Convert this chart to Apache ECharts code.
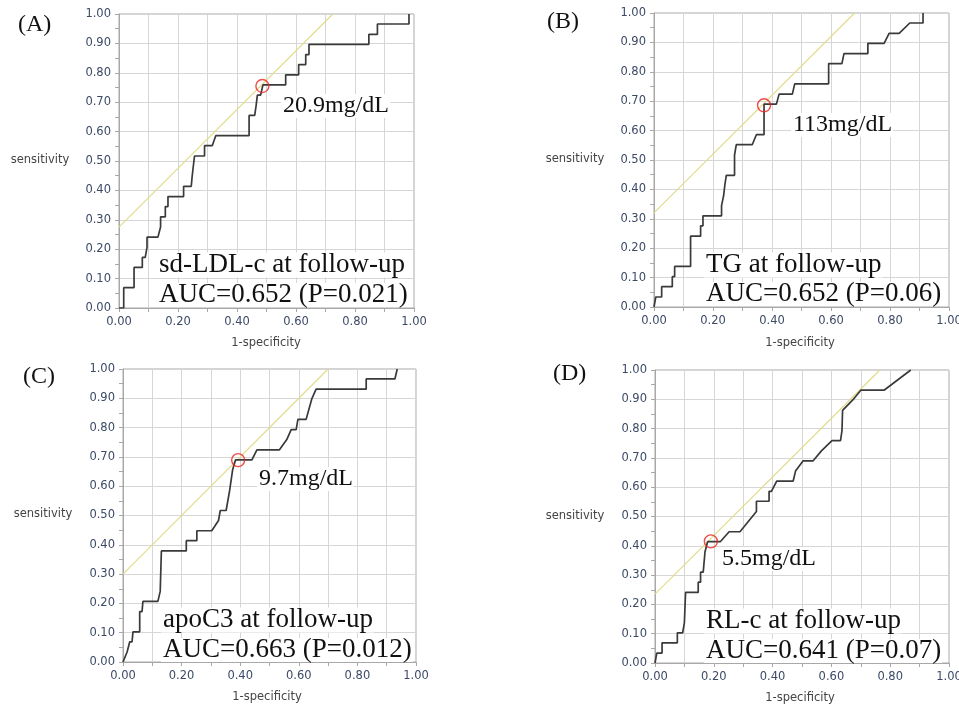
<!DOCTYPE html>
<html>
<head>
<meta charset="utf-8">
<script src="https://cdn.jsdelivr.net/npm/echarts@6/dist/echarts.min.js"></script>
<style>
html,body{margin:0;padding:0;background:#fff;}
#chart{width:959px;height:707px;}
</style>
</head>
<body>
<div id="chart"></div>
<script>
// ---- data: ROC curves [1-specificity, sensitivity] ----
const rocA = [[0,0],[0.016,0],[0.016,0.069],[0.051,0.069],[0.051,0.138],[0.079,0.138],[0.079,0.172],[0.089,0.172],[0.095,0.207],[0.095,0.241],[0.132,0.241],[0.141,0.276],[0.141,0.310],[0.157,0.310],[0.157,0.345],[0.166,0.345],[0.166,0.379],[0.219,0.379],[0.219,0.414],[0.245,0.414],[0.248,0.448],[0.252,0.483],[0.256,0.517],[0.290,0.517],[0.290,0.552],[0.316,0.552],[0.328,0.586],[0.441,0.586],[0.441,0.655],[0.460,0.655],[0.465,0.690],[0.469,0.724],[0.480,0.724],[0.488,0.759],[0.565,0.759],[0.565,0.793],[0.609,0.793],[0.609,0.828],[0.633,0.828],[0.633,0.862],[0.644,0.862],[0.644,0.897],[0.847,0.897],[0.847,0.931],[0.876,0.931],[0.876,0.966],[0.983,0.966],[0.983,1.0]];
const rocB = [[0,0],[0.006,0],[0.006,0.034],[0.026,0.034],[0.026,0.069],[0.062,0.069],[0.062,0.103],[0.070,0.103],[0.070,0.138],[0.124,0.138],[0.124,0.241],[0.158,0.241],[0.158,0.276],[0.166,0.276],[0.166,0.310],[0.229,0.310],[0.229,0.345],[0.236,0.379],[0.240,0.414],[0.245,0.448],[0.273,0.448],[0.273,0.517],[0.279,0.517],[0.279,0.552],[0.333,0.552],[0.340,0.569],[0.347,0.586],[0.373,0.586],[0.373,0.690],[0.415,0.690],[0.424,0.724],[0.469,0.724],[0.477,0.759],[0.592,0.759],[0.592,0.828],[0.637,0.828],[0.644,0.862],[0.725,0.862],[0.725,0.897],[0.780,0.897],[0.797,0.931],[0.831,0.931],[0.867,0.966],[0.912,0.966],[0.912,1.0]];
const rocC = [[0,0],[0.014,0.034],[0.020,0.034],[0.023,0.069],[0.031,0.069],[0.034,0.103],[0.057,0.103],[0.057,0.172],[0.065,0.172],[0.068,0.207],[0.119,0.207],[0.127,0.241],[0.131,0.379],[0.216,0.379],[0.216,0.414],[0.252,0.414],[0.252,0.448],[0.303,0.448],[0.326,0.483],[0.332,0.483],[0.332,0.517],[0.352,0.517],[0.364,0.586],[0.374,0.655],[0.384,0.690],[0.440,0.690],[0.457,0.724],[0.534,0.724],[0.559,0.759],[0.574,0.793],[0.591,0.793],[0.597,0.828],[0.625,0.828],[0.644,0.897],[0.659,0.931],[0.830,0.931],[0.830,0.966],[0.928,0.966],[0.936,1.0]];
const rocD = [[0,0],[0.006,0],[0.006,0.034],[0.024,0.034],[0.024,0.069],[0.076,0.069],[0.076,0.103],[0.094,0.103],[0.100,0.138],[0.104,0.241],[0.147,0.241],[0.147,0.276],[0.155,0.276],[0.155,0.310],[0.164,0.310],[0.170,0.379],[0.179,0.414],[0.222,0.414],[0.252,0.448],[0.289,0.448],[0.345,0.517],[0.345,0.552],[0.388,0.552],[0.388,0.586],[0.396,0.586],[0.414,0.621],[0.470,0.621],[0.478,0.655],[0.504,0.690],[0.538,0.690],[0.566,0.724],[0.602,0.759],[0.631,0.759],[0.636,0.793],[0.638,0.862],[0.672,0.897],[0.700,0.931],[0.779,0.931],[0.870,1.0]];

// tangent (Youden) reference lines: endpoints
const tanA = [[0,0.275],[0.725,1]];
const tanB = [[0,0.32],[0.68,1]];
const tanC = [[0,0.30],[0.70,1]];
const tanD = [[0,0.235],[0.765,1]];

// cutoff points
const cutA = [[0.486,0.755]];
const cutB = [[0.373,0.686]];
const cutC = [[0.393,0.689]];
const cutD = [[0.190,0.415]];

// texts
const panelLetters = ['(A)','(B)','(C)','(D)'];
const cutLabels = ['20.9mg/dL','113mg/dL','9.7mg/dL','5.5mg/dL'];
const titles = ['sd-LDL-c at follow-up','TG at follow-up','apoC3 at follow-up','RL-c at follow-up'];
const aucs = ['AUC=0.652 (P=0.021)','AUC=0.652 (P=0.06)','AUC=0.663 (P=0.012)','AUC=0.641 (P=0.07)'];
const yTitle = 'sensitivity';
const xTitle = '1-specificity';

const rocs = [rocA,rocB,rocC,rocD];
const tans = [tanA,tanB,tanC,tanD];
const cuts = [cutA,cutB,cutC,cutD];

// layout
const grids = [
  {left:119, top:14, width:295, height:294},
  {left:654, top:13, width:295, height:294},
  {left:123, top:369, width:293, height:293},
  {left:655, top:370, width:294, height:293}
];
const letterPos = [[18,25],[547,22],[23,377],[553,374]];
const cutLabelPos = [[283,106],[793,125],[259,479],[722,559]];
const annPos = [[159,265,295],[706,265,294],[163,620,650],[706,621,651]];
const yTitlePos = [[40,160],[575,159],[43,514],[575,516]];
const xTitlePos = [[266,343],[800,343],[267,697],[800,698]];

const axisColor = '#a8a8a8';
const labelColor = '#3c4a66';
const gridColor = '#d6d6d6';

const option = {
  animation:false,
  backgroundColor:'#ffffff',
  grid: grids.map(g => Object.assign({show:true, borderColor:axisColor, borderWidth:1, containLabel:false, outerBoundsMode:'none'}, g)),
  xAxis: grids.map((g,i) => ({
    gridIndex:i, type:'value', min:0, max:1, interval:0.1,
    axisLine:{show:true, onZero:false, lineStyle:{color:axisColor}},
    axisTick:{show:true, length:4, lineStyle:{color:axisColor}},
    axisLabel:{color:labelColor, fontSize:11.5, fontFamily:'DejaVu Sans', margin:8,
      formatter: v => (Math.round(v*10)%2===0 ? v.toFixed(2) : '')},
    splitLine:{show:true, lineStyle:{color:gridColor, width:1}}
  })),
  yAxis: grids.map((g,i) => ({
    gridIndex:i, type:'value', min:0, max:1, interval:0.1,
    axisLine:{show:true, onZero:false, lineStyle:{color:axisColor}},
    axisTick:{show:true, length:4, lineStyle:{color:axisColor}},
    minorTick:{show:true, splitNumber:2, length:4, lineStyle:{color:axisColor}},
    axisLabel:{color:labelColor, fontSize:11.5, fontFamily:'DejaVu Sans', margin:8,
      formatter: v => v.toFixed(2)},
    splitLine:{show:true, lineStyle:{color:gridColor, width:1}}
  })),
  series: [],
  graphic: []
};

for (let i = 0; i < 4; i++) {
  option.series.push({
    type:'line', xAxisIndex:i, yAxisIndex:i, data:tans[i], showSymbol:false, silent:true,
    lineStyle:{color:'#e2dc8c', width:1.2}, z:2
  });
  option.series.push({
    type:'line', xAxisIndex:i, yAxisIndex:i, data:rocs[i], showSymbol:false, silent:true,
    lineStyle:{color:'#3a3a3a', width:1.7}, z:3
  });
  option.series.push({
    type:'scatter', xAxisIndex:i, yAxisIndex:i, data:cuts[i], symbol:'circle', symbolSize:13, silent:true,
    itemStyle:{color:'rgba(0,0,0,0)', borderColor:'#e8231e', borderWidth:1.4}, z:5
  });
  const serif = 'Liberation Serif';
  const bgText = (x, y, text, size, lh) => ({
    type:'text', x:x, y:y, z:100, silent:true,
    style:{text:text, font:size+'px "'+serif+'"', fill:'#111', align:'left', verticalAlign:'middle',
      lineHeight:lh, backgroundColor:'#ffffff', padding:[0,1,0,2]}
  });
  option.graphic.push(
    {type:'text', x:letterPos[i][0], y:letterPos[i][1], z:100, style:{text:panelLetters[i], font:'24px "'+serif+'"', fill:'#111', align:'left', verticalAlign:'middle'}},
    bgText(cutLabelPos[i][0]-2, cutLabelPos[i][1], cutLabels[i], 24, 24),
    bgText(annPos[i][0]-2, annPos[i][1], titles[i], 27, 25),
    bgText(annPos[i][0]-2, annPos[i][2], aucs[i], 27, 24),
    {type:'text', x:yTitlePos[i][0], y:yTitlePos[i][1], z:100, style:{text:yTitle, font:'11.5px "DejaVu Sans"', fill:'#444', align:'center', verticalAlign:'middle'}},
    {type:'text', x:xTitlePos[i][0], y:xTitlePos[i][1], z:100, style:{text:xTitle, font:'11.5px "DejaVu Sans"', fill:'#444', align:'center', verticalAlign:'middle'}}
  );
}

const chart = echarts.init(document.getElementById('chart'), null, {renderer:'canvas'});
chart.setOption(option);
</script>
</body>
</html>
